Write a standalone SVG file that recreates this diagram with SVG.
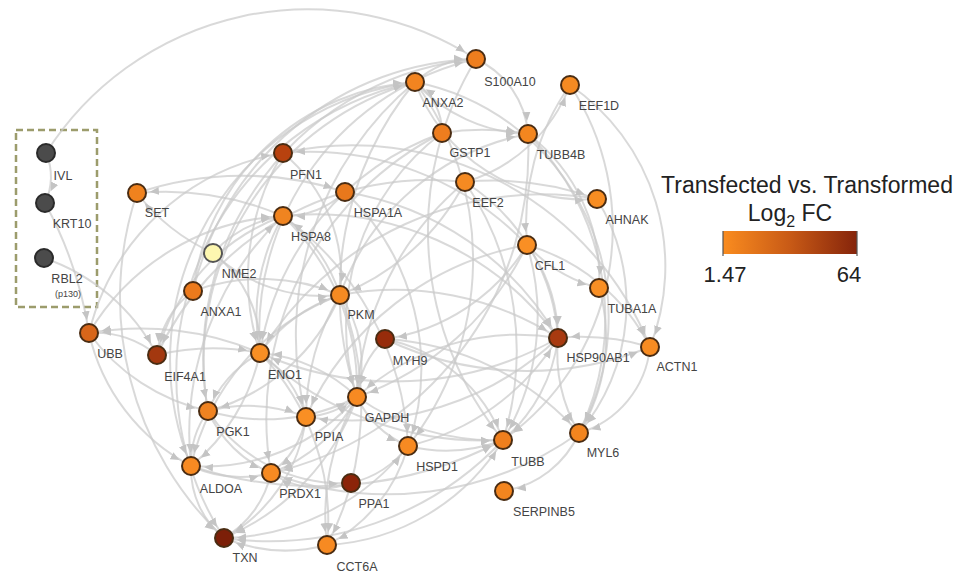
<svg xmlns="http://www.w3.org/2000/svg" width="969" height="586" viewBox="0 0 969 586">
<style>
.e{fill:none;stroke:#c9c9c9;stroke-opacity:0.7;stroke-width:2;marker-end:url(#arr)}
.n{stroke:#4a2c12;stroke-width:2}
.g{fill:#4b4b4b;stroke:#2a2a2a;stroke-width:2}
.l{font-family:"Liberation Sans",Arial,sans-serif;font-size:12.5px;fill:#444444;text-anchor:middle}
.s{font-size:9px}
.lg{font-family:"Liberation Sans",Arial,sans-serif;fill:#222;text-anchor:middle}
</style>
<defs>
<marker id="arr" viewBox="0 0 10 10" refX="22" refY="5" markerWidth="10" markerHeight="10" markerUnits="userSpaceOnUse" orient="auto">
<path d="M0,1 L9,5 L0,9 z" fill="#c4c4c4"/>
</marker>
<linearGradient id="grad" x1="0" y1="0" x2="1" y2="0">
<stop offset="0" stop-color="#fa8c1f"/>
<stop offset="0.5" stop-color="#c85a16"/>
<stop offset="1" stop-color="#85240b"/>
</linearGradient>
</defs>
<rect width="969" height="586" fill="#ffffff"/>
<rect x="16" y="130" width="81" height="177" fill="none" stroke="#9c9c6c" stroke-width="2.5" stroke-dasharray="7 4"/>
<g id="edges">
<path class="e" d="M46 153 A310 310 0 0 1 476 59"/>
<path class="e" d="M46 153 A60 60 0 0 1 45 203"/>
<path class="e" d="M45 203 A400 400 0 0 1 89 333"/>
<path class="e" d="M44 258 A200 200 0 0 1 157 355"/>
<path class="e" d="M137 193 A330 330 0 0 0 224 538"/>
<path class="e" d="M283 216 A300 300 0 0 0 137 193"/>
<path class="e" d="M213 253 A200 200 0 0 1 137 193"/>
<path class="e" d="M89 333 A240 240 0 0 1 283 153"/>
<path class="e" d="M415 82 A300 300 0 0 0 224 538"/>
<path class="e" d="M415 82 A280 280 0 0 0 191 466"/>
<path class="e" d="M476 59 A300 300 0 0 0 208 411"/>
<path class="e" d="M208 411 A290 290 0 0 1 415 82"/>
<path class="e" d="M260 353 A280 280 0 0 1 476 59"/>
<path class="e" d="M193 291 A240 240 0 0 1 415 82"/>
<path class="e" d="M193 291 A300 300 0 0 1 476 59"/>
<path class="e" d="M528 134 A260 260 0 0 1 579 433"/>
<path class="e" d="M570 85 A260 260 0 0 1 503 440"/>
<path class="e" d="M597 199 A200 200 0 0 1 579 433"/>
<path class="e" d="M650 347 A100 100 0 0 1 579 433"/>
<path class="e" d="M558 338 A160 160 0 0 0 579 433"/>
<path class="e" d="M599 288 A180 180 0 0 1 579 433"/>
<path class="e" d="M528 134 A180 180 0 0 1 599 288"/>
<path class="e" d="M527 245 A150 150 0 0 0 599 288"/>
<path class="e" d="M527 245 A160 160 0 0 1 558 338"/>
<path class="e" d="M465 182 A160 160 0 0 0 570 85"/>
<path class="e" d="M476 59 A90 90 0 0 1 528 134"/>
<path class="e" d="M415 82 A160 160 0 0 0 528 134"/>
<path class="e" d="M442 133 A250 250 0 0 1 528 134"/>
<path class="e" d="M340 295 A250 250 0 0 1 528 134"/>
<path class="e" d="M465 182 A300 300 0 0 1 597 199"/>
<path class="e" d="M415 82 A180 180 0 0 0 597 199"/>
<path class="e" d="M597 199 A330 330 0 0 0 260 353"/>
<path class="e" d="M579 433 A100 100 0 0 1 504 491"/>
<path class="e" d="M503 440 A320 320 0 0 1 224 538"/>
<path class="e" d="M579 433 A330 330 0 0 1 271 473"/>
<path class="e" d="M408 446 A240 240 0 0 1 224 538"/>
<path class="e" d="M340 295 A300 300 0 0 1 327 545"/>
<path class="e" d="M357 397 A240 240 0 0 0 327 545"/>
<path class="e" d="M327 545 A160 160 0 0 1 224 538"/>
<path class="e" d="M408 446 A160 160 0 0 1 327 545"/>
<path class="e" d="M260 353 A240 240 0 0 1 327 545"/>
<path class="e" d="M327 545 A220 220 0 0 0 503 440"/>
<path class="e" d="M357 397 A160 160 0 0 0 260 353"/>
<path class="e" d="M340 295 A120 120 0 0 1 357 397"/>
<path class="e" d="M208 411 A200 200 0 0 0 357 397"/>
<path class="e" d="M357 397 A200 200 0 0 1 191 466"/>
<path class="e" d="M306 417 A90 90 0 0 0 357 397"/>
<path class="e" d="M357 397 A100 100 0 0 0 408 446"/>
<path class="e" d="M357 397 A240 240 0 0 0 503 440"/>
<path class="e" d="M558 338 A240 240 0 0 0 357 397"/>
<path class="e" d="M283 216 A240 240 0 0 1 357 397"/>
<path class="e" d="M357 397 A160 160 0 0 1 271 473"/>
<path class="e" d="M357 397 A240 240 0 0 1 224 538"/>
<path class="e" d="M465 182 A300 300 0 0 0 357 397"/>
<path class="e" d="M415 82 A330 330 0 0 0 357 397"/>
<path class="e" d="M527 245 A300 300 0 0 1 357 397"/>
<path class="e" d="M385 339 A90 90 0 0 0 357 397"/>
<path class="e" d="M260 353 A160 160 0 0 1 340 295"/>
<path class="e" d="M260 353 A120 120 0 0 0 208 411"/>
<path class="e" d="M260 353 A200 200 0 0 1 191 466"/>
<path class="e" d="M283 216 A200 200 0 0 0 260 353"/>
<path class="e" d="M157 355 A240 240 0 0 1 260 353"/>
<path class="e" d="M260 353 A300 300 0 0 0 89 333"/>
<path class="e" d="M558 338 A330 330 0 0 1 260 353"/>
<path class="e" d="M260 353 A330 330 0 0 0 503 440"/>
<path class="e" d="M260 353 A120 120 0 0 1 306 417"/>
<path class="e" d="M340 295 A160 160 0 0 0 283 216"/>
<path class="e" d="M340 295 A300 300 0 0 1 558 338"/>
<path class="e" d="M340 295 A240 240 0 0 0 306 417"/>
<path class="e" d="M340 295 A240 240 0 0 0 191 466"/>
<path class="e" d="M340 295 A200 200 0 0 1 208 411"/>
<path class="e" d="M465 182 A240 240 0 0 1 340 295"/>
<path class="e" d="M345 192 A90 90 0 0 1 283 216"/>
<path class="e" d="M283 216 A300 300 0 0 1 558 338"/>
<path class="e" d="M283 216 A300 300 0 0 1 408 446"/>
<path class="e" d="M213 253 A120 120 0 0 1 283 216"/>
<path class="e" d="M283 216 A200 200 0 0 0 157 355"/>
<path class="e" d="M345 192 A300 300 0 0 1 558 338"/>
<path class="e" d="M408 446 A240 240 0 0 0 558 338"/>
<path class="e" d="M465 182 A200 200 0 0 1 558 338"/>
<path class="e" d="M558 338 A160 160 0 0 1 503 440"/>
<path class="e" d="M650 347 A240 240 0 0 0 558 338"/>
<path class="e" d="M558 338 A300 300 0 0 1 306 417"/>
<path class="e" d="M465 182 A300 300 0 0 0 157 355"/>
<path class="e" d="M465 182 A300 300 0 0 1 503 440"/>
<path class="e" d="M527 245 A300 300 0 0 0 283 153"/>
<path class="e" d="M527 245 A200 200 0 0 1 650 347"/>
<path class="e" d="M527 245 A200 200 0 0 1 385 339"/>
<path class="e" d="M527 245 A240 240 0 0 1 503 440"/>
<path class="e" d="M527 245 A300 300 0 0 0 306 417"/>
<path class="e" d="M385 339 A330 330 0 0 0 650 347"/>
<path class="e" d="M385 339 A280 280 0 0 1 579 433"/>
<path class="e" d="M385 339 A160 160 0 0 1 503 440"/>
<path class="e" d="M306 417 A90 90 0 0 1 271 473"/>
<path class="e" d="M306 417 A160 160 0 0 1 224 538"/>
<path class="e" d="M208 411 A160 160 0 0 1 306 417"/>
<path class="e" d="M271 473 A100 100 0 0 1 224 538"/>
<path class="e" d="M191 466 A120 120 0 0 0 271 473"/>
<path class="e" d="M208 411 A120 120 0 0 0 271 473"/>
<path class="e" d="M442 133 A320 320 0 0 0 271 473"/>
<path class="e" d="M191 466 A90 90 0 0 0 224 538"/>
<path class="e" d="M208 411 A90 90 0 0 0 191 466"/>
<path class="e" d="M157 355 A100 100 0 0 0 89 333"/>
<path class="e" d="M89 333 A240 240 0 0 1 283 216"/>
<path class="e" d="M89 333 A200 200 0 0 0 191 466"/>
<path class="e" d="M89 333 A200 200 0 0 0 208 411"/>
<path class="e" d="M193 291 A200 200 0 0 1 340 295"/>
<path class="e" d="M193 291 A90 90 0 0 0 157 355"/>
<path class="e" d="M213 253 A160 160 0 0 0 340 295"/>
<path class="e" d="M213 253 A120 120 0 0 1 260 353"/>
<path class="e" d="M283 153 A320 320 0 0 1 650 347"/>
<path class="e" d="M283 153 A240 240 0 0 0 260 353"/>
<path class="e" d="M283 153 A160 160 0 0 1 340 295"/>
<path class="e" d="M442 133 A240 240 0 0 0 357 397"/>
<path class="e" d="M442 133 A60 60 0 0 0 415 82"/>
<path class="e" d="M442 133 A280 280 0 0 0 260 353"/>
<path class="e" d="M351 483 A100 100 0 0 0 408 446"/>
<path class="e" d="M208 411 A160 160 0 0 0 351 483"/>
<path class="e" d="M351 483 A90 90 0 0 1 271 473"/>
<path class="e" d="M345 192 A240 240 0 0 1 408 446"/>
<path class="e" d="M408 446 A160 160 0 0 0 503 440"/>
<path class="e" d="M137 193 A330 330 0 0 1 345 192"/>
<path class="e" d="M415 82 A90 90 0 0 1 476 59"/>
<path class="e" d="M191 466 A300 300 0 0 1 283 216"/>
<path class="e" d="M415 82 A330 330 0 0 0 306 417"/>
<path class="e" d="M415 82 A300 300 0 0 1 408 446"/>
<path class="e" d="M476 59 A330 330 0 0 0 503 440"/>
<path class="e" d="M528 134 A330 330 0 0 1 271 473"/>
<path class="e" d="M570 85 A240 240 0 0 0 527 245"/>
<path class="e" d="M415 82 A240 240 0 0 1 579 433"/>
<path class="e" d="M570 85 A220 220 0 0 1 650 347"/>
<path class="e" d="M191 466 A400 400 0 0 0 503 440"/>
</g>
<g id="IVL"><circle class="g" cx="46" cy="153" r="9"/><text class="l" x="63" y="180">IVL</text></g>
<g id="KRT10"><circle class="g" cx="45" cy="203" r="9"/><text class="l" x="72" y="228">KRT10</text></g>
<g id="RBL2"><circle class="g" cx="44" cy="258" r="9"/><text class="l" x="67" y="283">RBL2</text><text class="l s" x="68" y="297">(p130)</text></g>
<g id="SET"><circle class="n" cx="137" cy="193" r="9" fill="#f0821e"/><text class="l" x="157" y="217">SET</text></g>
<g id="PFN1"><circle class="n" cx="283" cy="153" r="9" fill="#b8420f"/><text class="l" x="306" y="179">PFN1</text></g>
<g id="HSPA1A"><circle class="n" cx="345" cy="192" r="9" fill="#e8781c"/><text class="l" x="378" y="217">HSPA1A</text></g>
<g id="HSPA8"><circle class="n" cx="283" cy="216" r="9" fill="#f08420"/><text class="l" x="311" y="241">HSPA8</text></g>
<g id="NME2"><circle cx="213" cy="253" r="9" fill="#fdf7b0" stroke="#555" stroke-width="2"/><text class="l" x="239" y="278">NME2</text></g>
<g id="ANXA1"><circle class="n" cx="193" cy="291" r="9" fill="#ec7a1c"/><text class="l" x="221" y="316">ANXA1</text></g>
<g id="PKM"><circle class="n" cx="340" cy="295" r="9" fill="#f58a22"/><text class="l" x="361" y="319">PKM</text></g>
<g id="S100A10"><circle class="n" cx="476" cy="59" r="9" fill="#ee7e1e"/><text class="l" x="510" y="86">S100A10</text></g>
<g id="ANXA2"><circle class="n" cx="415" cy="82" r="9" fill="#f28420"/><text class="l" x="443" y="107">ANXA2</text></g>
<g id="EEF1D"><circle class="n" cx="570" cy="85" r="9" fill="#f58a22"/><text class="l" x="599" y="110">EEF1D</text></g>
<g id="GSTP1"><circle class="n" cx="442" cy="133" r="9" fill="#ee7d1e"/><text class="l" x="470" y="157">GSTP1</text></g>
<g id="TUBB4B"><circle class="n" cx="528" cy="134" r="9" fill="#f3861f"/><text class="l" x="561" y="159">TUBB4B</text></g>
<g id="EEF2"><circle class="n" cx="465" cy="182" r="9" fill="#f58a22"/><text class="l" x="488" y="207">EEF2</text></g>
<g id="AHNAK"><circle class="n" cx="597" cy="199" r="9" fill="#f88d22"/><text class="l" x="627" y="224">AHNAK</text></g>
<g id="CFL1"><circle class="n" cx="527" cy="245" r="9" fill="#f98f24"/><text class="l" x="550" y="270">CFL1</text></g>
<g id="TUBA1A"><circle class="n" cx="599" cy="288" r="9" fill="#f98f24"/><text class="l" x="632" y="313">TUBA1A</text></g>
<g id="HSP90AB1"><circle class="n" cx="558" cy="338" r="9" fill="#a83a10"/><text class="l" x="598" y="362">HSP90AB1</text></g>
<g id="ACTN1"><circle class="n" cx="650" cy="347" r="9" fill="#f88c22"/><text class="l" x="677" y="371">ACTN1</text></g>
<g id="UBB"><circle class="n" cx="89" cy="333" r="9" fill="#d8661a"/><text class="l" x="110" y="358">UBB</text></g>
<g id="EIF4A1"><circle class="n" cx="157" cy="355" r="9" fill="#a3380f"/><text class="l" x="185" y="381">EIF4A1</text></g>
<g id="ENO1"><circle class="n" cx="260" cy="353" r="9" fill="#f98f24"/><text class="l" x="285" y="379">ENO1</text></g>
<g id="MYH9"><circle class="n" cx="385" cy="339" r="9" fill="#972c0b"/><text class="l" x="410" y="365">MYH9</text></g>
<g id="PGK1"><circle class="n" cx="208" cy="411" r="9" fill="#f08321"/><text class="l" x="233" y="436">PGK1</text></g>
<g id="PPIA"><circle class="n" cx="306" cy="417" r="9" fill="#f98f24"/><text class="l" x="329" y="441">PPIA</text></g>
<g id="GAPDH"><circle class="n" cx="357" cy="397" r="9" fill="#f78a22"/><text class="l" x="387" y="422">GAPDH</text></g>
<g id="ALDOA"><circle class="n" cx="191" cy="466" r="9" fill="#f78a22"/><text class="l" x="221" y="493">ALDOA</text></g>
<g id="PRDX1"><circle class="n" cx="271" cy="473" r="9" fill="#f78a22"/><text class="l" x="300" y="498">PRDX1</text></g>
<g id="PPA1"><circle class="n" cx="351" cy="483" r="9" fill="#8c2409"/><text class="l" x="374" y="508">PPA1</text></g>
<g id="HSPD1"><circle class="n" cx="408" cy="446" r="9" fill="#f78a22"/><text class="l" x="437" y="471">HSPD1</text></g>
<g id="TUBB"><circle class="n" cx="503" cy="440" r="9" fill="#ef7f1e"/><text class="l" x="528" y="466">TUBB</text></g>
<g id="MYL6"><circle class="n" cx="579" cy="433" r="9" fill="#f3851f"/><text class="l" x="603" y="457">MYL6</text></g>
<g id="SERPINB5"><circle class="n" cx="504" cy="491" r="9" fill="#f3851f"/><text class="l" x="544" y="516">SERPINB5</text></g>
<g id="TXN"><circle class="n" cx="224" cy="538" r="9" fill="#7c1f08"/><text class="l" x="245" y="562">TXN</text></g>
<g id="CCT6A"><circle class="n" cx="327" cy="545" r="9" fill="#f78a22"/><text class="l" x="357" y="571">CCT6A</text></g>
<g id="legend">
<text class="lg" x="807" y="193" font-size="23">Transfected vs. Transformed</text>
<text class="lg" x="790" y="221" font-size="23">Log<tspan font-size="16" dy="6">2</tspan><tspan dy="-6"> FC</tspan></text>
<rect x="723" y="231" width="134" height="23" fill="url(#grad)"/>
<line x1="723" y1="231" x2="723" y2="256" stroke="#555" stroke-width="1.2"/>
<line x1="857" y1="231" x2="857" y2="256" stroke="#555" stroke-width="1.2"/>
<text class="lg" x="725" y="282" font-size="22">1.47</text>
<text class="lg" x="849" y="282" font-size="22">64</text>
</g>
</svg>
